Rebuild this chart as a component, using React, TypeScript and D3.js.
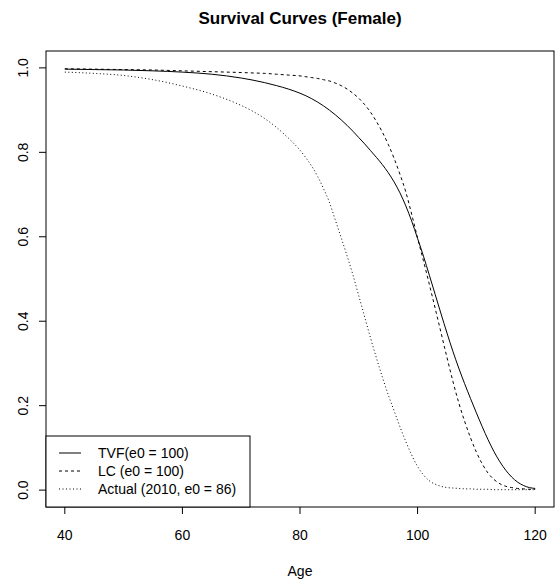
import React from "react";
import * as d3 from "d3";

const title = "Survival Curves (Female)";
const xLabel = "Age";
const xTicks = [40, 60, 80, 100, 120];
const yTicks = [0, 0.2, 0.4, 0.6, 0.8, 1.0];

const ages = [40, 45, 50, 55, 60, 65, 70, 72, 74, 76, 78,
  80, 81, 82, 83, 84, 85, 86, 87, 88, 89, 90, 91, 92, 93, 94, 95, 96, 97, 98, 99,
  100, 101, 102, 103, 104, 105, 106, 107, 108, 109, 110, 111, 112, 113, 114, 115, 116, 117, 118, 119, 120];

const tvf = [0.997, 0.996, 0.995, 0.993, 0.990, 0.985, 0.976, 0.971, 0.965, 0.958, 0.950,
  0.940, 0.934, 0.927, 0.919, 0.910, 0.900, 0.889, 0.877, 0.864, 0.850, 0.835, 0.820, 0.804, 0.788, 0.771, 0.752, 0.730, 0.704, 0.673, 0.637,
  0.596, 0.554, 0.509, 0.463, 0.417, 0.372, 0.329, 0.289, 0.252, 0.217, 0.183, 0.150, 0.119, 0.091, 0.067, 0.047, 0.031, 0.019, 0.011, 0.006, 0.004];

const lc = [0.998, 0.997, 0.996, 0.995, 0.993, 0.991, 0.989, 0.988, 0.987, 0.985, 0.983,
  0.981, 0.979, 0.977, 0.975, 0.972, 0.969, 0.964, 0.958, 0.950, 0.940, 0.928, 0.913, 0.895, 0.873, 0.848, 0.819, 0.786, 0.748, 0.706, 0.653,
  0.597, 0.543, 0.487, 0.430, 0.372, 0.314, 0.258, 0.207, 0.163, 0.124, 0.090, 0.062, 0.040, 0.025, 0.015, 0.009, 0.006, 0.004, 0.003, 0.002, 0.002];

const actual = [0.990, 0.987, 0.982, 0.972, 0.957, 0.938, 0.911, 0.897, 0.880, 0.859, 0.834,
  0.805, 0.787, 0.767, 0.743, 0.714, 0.682, 0.640, 0.598, 0.555, 0.510, 0.460, 0.410, 0.360, 0.313, 0.268, 0.226, 0.188, 0.150, 0.115, 0.083,
  0.056, 0.036, 0.022, 0.014, 0.009, 0.006, 0.005, 0.004, 0.003, 0.003, 0.002, 0.002, 0.002, 0.001, 0.001, 0.001, 0.001, 0.001, 0.001, 0.001, 0.001];

const seriesNames = ["TVF(e0 = 100)", "LC (e0 = 100)", "Actual (2010, e0 = 86)"];
const seriesValues = [tvf, lc, actual];
const seriesDash = ["none", "3,3", "1,2.5"];

const W = 556, H = 579;
const box = { left: 46, right: 554, top: 51, bottom: 507 };
const font = "'Liberation Sans', Arial, Helvetica, sans-serif";

export default function App() {
  const x = d3.scaleLinear().domain([36.8, 123.2]).range([box.left, box.right]);
  const y = d3.scaleLinear().domain([-0.04, 1.04]).range([box.bottom, box.top]);
  const line = d3.line<[number, number]>()
    .x((d) => x(d[0]))
    .y((d) => y(d[1]))
    .curve(d3.curveMonotoneX);

  const leg = { x: 46, y: 436, w: 204, h: 71 };

  return (
    <svg width={W} height={H} style={{ position: "absolute", left: 0, top: 0 }} fontFamily={font}>
      <rect x={0} y={0} width={W} height={H} fill="#fff" />
      <text x={(box.left + box.right) / 2} y={24} textAnchor="middle" fontSize={17} fontWeight="bold" fill="#000">{title}</text>

      {seriesValues.map((vals, i) => (
        <path key={i} d={line(ages.map((a, j) => [a, vals[j]]) as [number, number][]) || ""}
          fill="none" stroke="#000" strokeWidth={1} strokeDasharray={seriesDash[i]} />
      ))}

      <rect x={box.left} y={box.top} width={box.right - box.left} height={box.bottom - box.top} fill="none" stroke="#000" strokeWidth={1} />

      {xTicks.map((t) => (
        <g key={t}>
          <line x1={x(t)} x2={x(t)} y1={box.bottom} y2={box.bottom + 7} stroke="#000" />
          <text x={x(t)} y={540} textAnchor="middle" fontSize={14} fill="#000">{t}</text>
        </g>
      ))}
      {yTicks.map((t) => (
        <g key={t}>
          <line x1={box.left - 7} x2={box.left} y1={y(t)} y2={y(t)} stroke="#000" />
          <text transform={`translate(27.5,${y(t)}) rotate(-90)`} textAnchor="middle" fontSize={14} fill="#000">{t.toFixed(1)}</text>
        </g>
      ))}
      <text x={(box.left + box.right) / 2} y={576} textAnchor="middle" fontSize={14} fill="#000">{xLabel}</text>

      <rect x={leg.x} y={leg.y} width={leg.w} height={leg.h} fill="#fff" stroke="#000" strokeWidth={1} />
      {seriesNames.map((n, i) => {
        const ry = 453 + i * 18;
        return (
          <g key={n}>
            <line x1={59} x2={81} y1={ry} y2={ry} stroke="#000" strokeDasharray={seriesDash[i]} />
            <text x={98} y={ry + 5} fontSize={14} fill="#000">{n}</text>
          </g>
        );
      })}
    </svg>
  );
}
